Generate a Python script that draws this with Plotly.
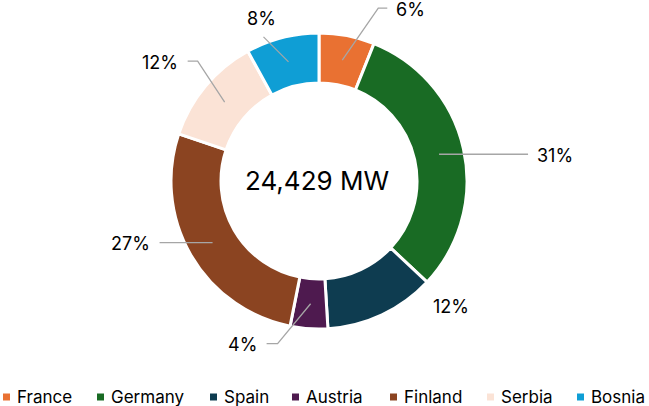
import math
import plotly.graph_objects as go

# ---------------- data ----------------
countries = ["France", "Germany", "Spain", "Austria", "Finland", "Serbia", "Bosnia"]
capacity_mw = [1480, 7550, 2950, 1000, 6600, 2900, 1949]
colors = ["#E97132", "#196B24", "#0E3C50", "#4E1A4F", "#8B4421", "#FBE3D6", "#0F9ED5"]

# ---------------- style / layout ----------------
W, H = 649, 406
CX, CY = 319, 181          # pie centre (px)
R_OUT, R_IN = 148, 98      # outer / inner radius (px)
FONT = "Inter"
LABEL_SIZE = 18
LINE_COLOR = "#A6A6A6"
# leader geometry per slice: elbow offset, end offset (px from mid-ring anchor), text side
LEADERS = [
    dict(elbow=(36, -52), end=(45, -52), side="left"),
    dict(elbow=(0, 0), end=(89, 0), side="left"),
    dict(elbow=None, end=(80, 14), side="center"),
    dict(elbow=(-33, 40), end=(-44, 40), side="right"),
    dict(elbow=(0, 0), end=(-53, 0), side="right"),
    dict(elbow=(-27, -41), end=(-37, -41), side="right"),
    dict(elbow=(-25, -25), end=(-25, -25), side="above"),
]
LEGEND_X = [3, 97, 210, 292, 390, 487, 577]  # legend entry start (px)
LEGEND_Y = 397


def px(x):
    return x / W


def py(y):
    return 1 - y / H


total = sum(capacity_mw)
pcts = [round(v / total * 100) for v in capacity_mw]

fig = go.Figure(
    go.Pie(
        labels=countries,
        values=capacity_mw,
        hole=R_IN / R_OUT,
        sort=False,
        direction="clockwise",
        rotation=0,
        marker=dict(colors=colors, line=dict(color="white", width=3)),
        textinfo="none",
        hoverinfo="label+value+percent",
        showlegend=False,
        domain=dict(x=[px(CX - R_OUT), px(CX + R_OUT)], y=[py(CY + R_OUT), py(CY - R_OUT)]),
    )
)

shapes = []
annotations = []

# centre total
annotations.append(dict(
    text=f"{total:,} MW", x=px(CX - 2), y=py(CY), xref="paper", yref="paper",
    showarrow=False, font=dict(family=FONT, size=26, color="#000000"),
    xanchor="center", yanchor="middle",
))

# data labels with leader lines
cum = 0
r_mid = (R_OUT + R_IN) / 2
for name, v, p, ld in zip(countries, capacity_mw, pcts, LEADERS):
    mid = (cum + v / 2) / total * 2 * math.pi
    cum += v
    ax = CX + r_mid * math.sin(mid)
    ay = CY - r_mid * math.cos(mid)
    ex, ey = ax + ld["end"][0], ay + ld["end"][1]
    if ld["elbow"] is not None:
        bx, by = ax + ld["elbow"][0], ay + ld["elbow"][1]
        path = f"M {px(ax)} {py(ay)} L {px(bx)} {py(by)} L {px(ex)} {py(ey)}"
        shapes.append(dict(type="path", path=path, xref="paper", yref="paper",
                           line=dict(color=LINE_COLOR, width=1.3)))
    if ld["side"] == "left":
        tx, ty, xa = ex + 7, ey + 1, "left"
    elif ld["side"] == "right":
        tx, ty, xa = ex - 8, ey + 1, "right"
    elif ld["side"] == "above":
        tx, ty, xa = ex - 2, ey - 18, "center"
    else:
        tx, ty, xa = ex, ey, "center"
    annotations.append(dict(
        text=f"{p}%", x=px(tx), y=py(ty), xref="paper", yref="paper",
        showarrow=False, font=dict(family=FONT, size=LABEL_SIZE, color="#000000"),
        xanchor=xa, yanchor="middle",
    ))

# legend (squares + names)
for name, col, lx in zip(countries, colors, LEGEND_X):
    shapes.append(dict(type="rect", xref="paper", yref="paper",
                       x0=px(lx), x1=px(lx + 7), y0=py(LEGEND_Y + 3.5), y1=py(LEGEND_Y - 3.5),
                       fillcolor=col, line=dict(width=0)))
    annotations.append(dict(
        text=name, x=px(lx + 12), y=py(LEGEND_Y), xref="paper", yref="paper",
        showarrow=False, font=dict(family=FONT, size=17, color="#000000"),
        xanchor="left", yanchor="middle",
    ))

fig.update_layout(
    width=W, height=H,
    margin=dict(l=0, r=0, t=0, b=0),
    paper_bgcolor="white", plot_bgcolor="white",
    shapes=shapes, annotations=annotations,
    showlegend=False,
)

fig.write_html(
    "out.html",
    config={"displayModeBar": False},
    post_script="document.body.style.margin='0px';document.body.style.overflow='hidden';",
)
